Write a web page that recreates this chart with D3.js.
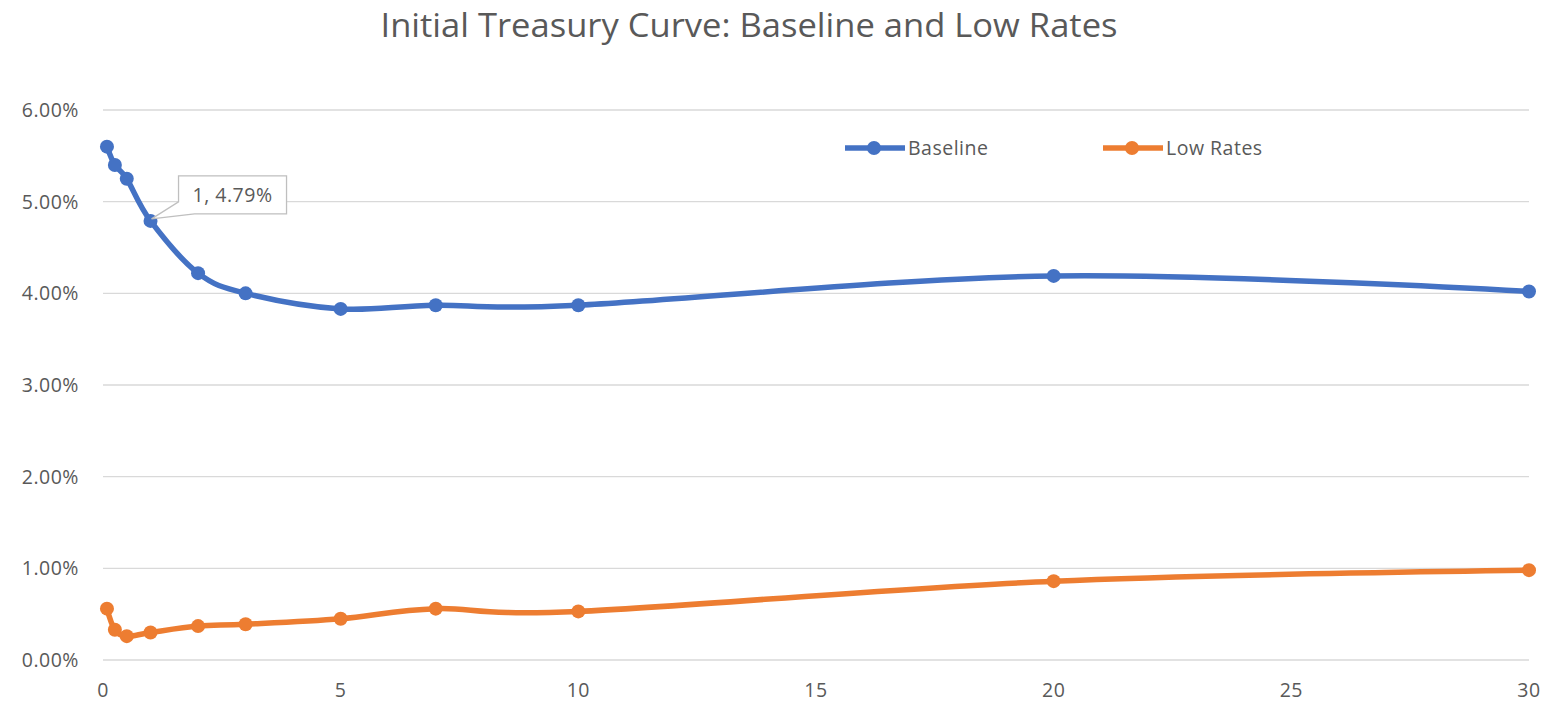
<!DOCTYPE html>
<html><head><meta charset="utf-8">
<script src="https://cdn.jsdelivr.net/npm/d3@7"></script>
<style>body{margin:0;background:#fff;} text{font-family:"Open Sans",sans-serif;}</style>
</head><body><svg id="c" width="1557" height="703"></svg>
<script>
const maturities = [1/12, 0.25, 0.5, 1, 2, 3, 5, 7, 10, 20, 30];
const baseline = [5.60, 5.40, 5.25, 4.79, 4.22, 4.00, 3.83, 3.87, 3.87, 4.19, 4.02];
const lowRates = [0.56, 0.33, 0.26, 0.30, 0.37, 0.39, 0.45, 0.56, 0.53, 0.86, 0.98];
const seriesNames = ["Baseline", "Low Rates"];
const seriesColors = ["#4472C4", "#ED7D31"];
const yTicks = [0, 1, 2, 3, 4, 5, 6];
const xTicks = [0, 5, 10, 15, 20, 25, 30];
const title = "Initial Treasury Curve: Baseline and Low Rates";

const svg = d3.select("#c");
const x = d3.scaleLinear().domain([0, 30]).range([103, 1529]);
const y = d3.scaleLinear().domain([0, 6]).range([660, 110]);
const FS = 19.5;

svg.append("text").attr("x", 749).attr("y", 37).attr("text-anchor", "middle")
  .attr("font-size", 32).attr("fill", "#595959")
  .attr("textLength", 737).attr("lengthAdjust", "spacingAndGlyphs").text(title);

// grid
svg.append("g").selectAll("line").data(yTicks).join("line")
  .attr("x1", x(0)).attr("x2", x(30)).attr("y1", d => y(d)).attr("y2", d => y(d))
  .attr("stroke", "#d9d9d9").attr("stroke-width", 1.3);

svg.append("g").selectAll("text").data(yTicks).join("text")
  .attr("x", 79).attr("y", d => y(d) + 7).attr("text-anchor", "end")
  .attr("font-size", FS).attr("letter-spacing", 0.5).attr("fill", "#595959").text(d => d.toFixed(2) + "%");

svg.append("g").selectAll("text").data(xTicks).join("text")
  .attr("x", d => x(d)).attr("y", 697).attr("text-anchor", "middle")
  .attr("font-size", FS).attr("letter-spacing", 0.5).attr("fill", "#595959").text(d => d);

const line = d3.line().x(d => x(d[0])).y(d => y(d[1])).curve(d3.curveCatmullRom.alpha(0));
const allSeries = [baseline, lowRates];
allSeries.forEach((vals, i) => {
  const pts = maturities.map((m, j) => [m, vals[j]]);
  svg.append("path").attr("d", line(pts)).attr("fill", "none")
    .attr("stroke", seriesColors[i]).attr("stroke-width", 5.5).attr("stroke-linejoin", "round");
  svg.append("g").selectAll("circle").data(pts).join("circle")
    .attr("cx", d => x(d[0])).attr("cy", d => y(d[1])).attr("r", 7).attr("fill", seriesColors[i]);
});

// legend
const legX = [845, 1103];
seriesNames.forEach((n, i) => {
  const g = svg.append("g").attr("transform", `translate(${legX[i]},148)`);
  g.append("line").attr("x1", 0).attr("x2", 60).attr("stroke", seriesColors[i]).attr("stroke-width", 5.5);
  g.append("circle").attr("cx", 29).attr("r", 7).attr("fill", seriesColors[i]);
  g.append("text").attr("x", 63).attr("y", 7).attr("font-size", FS).attr("letter-spacing", 0.5)
    .attr("fill", "#595959").text(n);
});

// annotation for 1, 4.79%
const ax = x(maturities[3]), ay = y(baseline[3]);
const bx = ax + 28, by = ay - 45, bw = 108, bh = 38;
svg.append("path")
  .attr("d", `M${bx},${by} H${bx + bw} V${by + bh} H${bx + 16} L${ax + 1},${ay - 2} L${bx},${by + 26} Z`)
  .attr("fill", "#fff").attr("stroke", "#bfbfbf").attr("stroke-width", 1.3);
svg.append("text").attr("x", bx + bw / 2).attr("y", by + 26).attr("text-anchor", "middle")
  .attr("font-size", FS).attr("letter-spacing", 0.5).attr("fill", "#595959")
  .text(`${maturities[3]}, ${baseline[3].toFixed(2)}%`);
</script></body></html>
